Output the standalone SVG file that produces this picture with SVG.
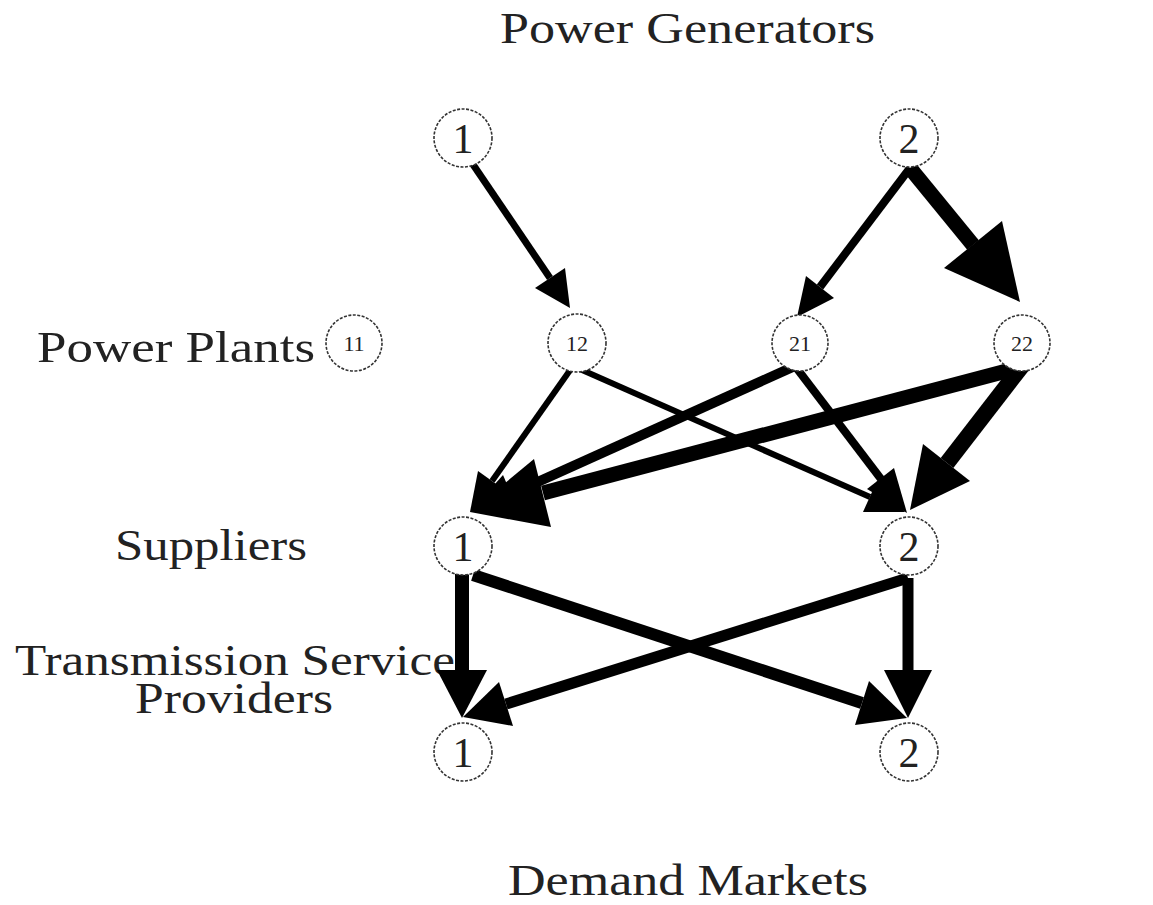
<svg xmlns="http://www.w3.org/2000/svg" width="1153" height="905" viewBox="0 0 1153 905">
<style>
.lbl{font-family:"Liberation Serif","DejaVu Serif",serif;font-size:44px;fill:#222;}
.node circle{fill:#fff;stroke:#333;stroke-width:1.6;stroke-dasharray:3 1.5;}
.big{font-family:"Liberation Serif","DejaVu Serif",serif;font-size:42px;fill:#222;text-anchor:middle;}
.small{font-family:"Liberation Serif","DejaVu Serif",serif;font-size:22px;fill:#222;text-anchor:middle;}
.edges line{stroke:#000;stroke-linecap:butt;}
.edges polygon{fill:#000;}
</style>
<rect width="1153" height="905" fill="#fff"/>
<text class="lbl" x="500" y="43" textLength="375" lengthAdjust="spacingAndGlyphs">Power Generators</text>
<text class="lbl" x="37" y="362" textLength="278" lengthAdjust="spacingAndGlyphs">Power Plants</text>
<text class="lbl" x="115" y="560" textLength="192" lengthAdjust="spacingAndGlyphs">Suppliers</text>
<text class="lbl" x="15" y="675" font-size="42" textLength="440" lengthAdjust="spacingAndGlyphs">Transmission Service</text>
<text class="lbl" x="135" y="713" font-size="42" textLength="198" lengthAdjust="spacingAndGlyphs">Providers</text>
<text class="lbl" x="508" y="895" font-size="42" textLength="360" lengthAdjust="spacingAndGlyphs">Demand Markets</text>
<g class="edges">
<line x1="472" y1="163" x2="550" y2="278" stroke-width="7"/>
<polygon points="570,308 535,288 565,268"/>
<line x1="910" y1="168" x2="820" y2="287" stroke-width="8"/>
<polygon points="797,317 834,298 806,276"/>
<line x1="910" y1="168" x2="973" y2="245" stroke-width="15"/>
<polygon points="1020,302 944,268 1002,221"/>
<line x1="573" y1="366" x2="492" y2="481" stroke-width="6"/>
<polygon points="470,512 506,491 478,471"/>
<line x1="573" y1="366" x2="870" y2="497" stroke-width="6"/>
<polygon points="905,512 863,512 877,481"/>
<line x1="795" y1="366" x2="511" y2="494" stroke-width="10"/>
<polygon points="470,512 519,512 503,475"/>
<line x1="795" y1="366" x2="881" y2="479" stroke-width="8"/>
<polygon points="907,513 867,489 894,468"/>
<line x1="1022" y1="367" x2="543" y2="493" stroke-width="15"/>
<polygon points="470,512 551,527 534,459"/>
<line x1="1022" y1="366" x2="947" y2="463" stroke-width="16"/>
<polygon points="910,510 970,481 923,444"/>
<line x1="462" y1="573" x2="462" y2="671" stroke-width="14"/>
<polygon points="462,718 437,670 487,670"/>
<line x1="473" y1="575" x2="862" y2="703" stroke-width="12"/>
<polygon points="907,718 855,725 869,681"/>
<line x1="908" y1="578" x2="506" y2="704" stroke-width="11"/>
<polygon points="463,717 513,726 499,682"/>
<line x1="908" y1="578" x2="908" y2="671" stroke-width="11"/>
<polygon points="908,718 884,670 932,670"/>
</g>
<g id="gen1" class="node"><circle cx="463" cy="138" r="29"/><text class="big" x="463" y="153">1</text></g>
<g id="gen2" class="node"><circle cx="909" cy="138" r="29"/><text class="big" x="909" y="153">2</text></g>
<g id="pp11" class="node"><circle cx="354" cy="343" r="28"/><text class="small" x="354" y="351">11</text></g>
<g id="pp12" class="node"><circle cx="577" cy="343" r="29"/><text class="small" x="577" y="351">12</text></g>
<g id="pp21" class="node"><circle cx="800" cy="343" r="28"/><text class="small" x="800" y="351">21</text></g>
<g id="pp22" class="node"><circle cx="1022" cy="343" r="28"/><text class="small" x="1022" y="351">22</text></g>
<g id="sup1" class="node"><circle cx="463" cy="546" r="29"/><text class="big" x="463" y="561">1</text></g>
<g id="sup2" class="node"><circle cx="909" cy="546" r="29"/><text class="big" x="909" y="561">2</text></g>
<g id="dm1" class="node"><circle cx="463" cy="752" r="29"/><text class="big" x="463" y="767">1</text></g>
<g id="dm2" class="node"><circle cx="909" cy="752" r="29"/><text class="big" x="909" y="767">2</text></g>
</svg>
